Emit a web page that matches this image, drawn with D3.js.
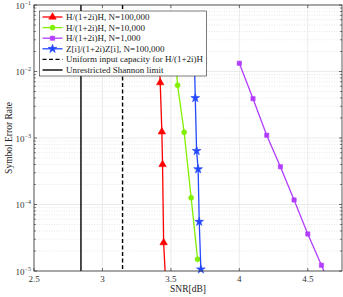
<!DOCTYPE html>
<html>
<head>
<meta charset="utf-8">
<title>SER vs SNR</title>
<script src="https://cdn.jsdelivr.net/npm/d3@7"></script>
<style>
  body { margin: 0; background: #fff; }
  svg { display: block; font-family: "Liberation Serif", "DejaVu Serif", serif; }
  .grid-major { stroke: #e2e2e2; stroke-width: 0.7; }
  .grid-minor { stroke: #dadada; stroke-width: 0.6; stroke-dasharray: 1,1.5; }
</style>
</head>
<body>
<div id="chart"></div>
<script>
// series values
var red_snr   = [3.415, 3.422, 3.434, 3.439, 3.447, 3.46];
var red_ser   = [1.6e-2, 6.8e-3, 1.24e-3, 4.0e-4, 2.67e-5, 8e-6];
var green_snr = [3.535, 3.549, 3.597, 3.648, 3.695];
var green_ser = [1.5e-2, 6.2e-3, 1.22e-3, 1.26e-4, 1.5e-5];
var purple_snr = [4.0, 4.1, 4.2, 4.3, 4.4, 4.5, 4.6, 4.7];
var purple_ser = [1.33e-2, 3.9e-3, 1.1e-3, 3.7e-4, 1.17e-4, 3.6e-5, 1.22e-5, 4e-6];
var blue_snr  = [3.672, 3.678, 3.688, 3.699, 3.707, 3.719];
var blue_ser  = [1.5e-2, 4.0e-3, 6.4e-4, 3.4e-4, 5.5e-5, 1.06e-5];
var uniform_limit = 3.147;
var shannon_limit = 2.843;

var legend_labels = [
  "H/(1+2i)H, N=100,000",
  "H/(1+2i)H, N=10,000",
  "H/(1+2i)H, N=1,000",
  "Z[i]/(1+2i)Z[i], N=100,000",
  "Uniform input capacity for H/(1+2i)H",
  "Unrestricted Shannon limit"
];
var x_ticks = [2.5, 3, 3.5, 4, 4.5];
var x_tick_labels = ["2.5", "3", "3.5", "4", "4.5"];
var y_exps = [-1, -2, -3, -4, -5];

var W = 343, H = 297;
var m = {left: 34, right: 1, top: 5, bottom: 26};

var svg = d3.select("#chart").append("svg").attr("width", W).attr("height", H);

var x = d3.scaleLinear().domain([2.5, 4.75]).range([m.left, W - m.right]);
var y = d3.scaleLog().domain([1e-5, 1e-1]).range([H - m.bottom, m.top]);

// grid
var minorY = [];
y_exps.slice(1).forEach(function(e){
  for (var k = 2; k <= 9; k++) minorY.push(k * Math.pow(10, e));
});
svg.append("g").selectAll("line").data(minorY).enter().append("line")
  .attr("class", "grid-minor")
  .attr("x1", m.left).attr("x2", W - m.right)
  .attr("y1", function(d){ return y(d); }).attr("y2", function(d){ return y(d); });
svg.append("g").selectAll("line").data(y_exps).enter().append("line")
  .attr("class", "grid-major")
  .attr("x1", m.left).attr("x2", W - m.right)
  .attr("y1", function(d){ return y(Math.pow(10, d)); }).attr("y2", function(d){ return y(Math.pow(10, d)); });
svg.append("g").selectAll("line").data(x_ticks).enter().append("line")
  .attr("class", "grid-major")
  .attr("y1", m.top).attr("y2", H - m.bottom)
  .attr("x1", function(d){ return x(d); }).attr("x2", function(d){ return x(d); });

svg.append("clipPath").attr("id", "clip").append("rect")
  .attr("x", m.left).attr("y", m.top)
  .attr("width", W - m.left - m.right).attr("height", H - m.top - m.bottom);

// vertical limits
svg.append("line")
  .attr("x1", x(shannon_limit)).attr("x2", x(shannon_limit))
  .attr("y1", m.top).attr("y2", H - m.bottom)
  .attr("stroke", "#000").attr("stroke-width", 1.4);
svg.append("line")
  .attr("x1", x(uniform_limit)).attr("x2", x(uniform_limit))
  .attr("y1", m.top).attr("y2", H - m.bottom)
  .attr("stroke", "#000").attr("stroke-width", 1.4).attr("stroke-dasharray", "4,2.5");

var series = [
  {snr: red_snr, ser: red_ser, color: "#ff0000", sym: d3.symbolTriangle, size: 24},
  {snr: green_snr, ser: green_ser, color: "#80f000", sym: d3.symbolCircle, size: 20},
  {snr: purple_snr, ser: purple_ser, color: "#b23cff", sym: d3.symbolSquare, size: 18},
  {snr: blue_snr, ser: blue_ser, color: "#2448ff", sym: d3.symbolStar, size: 24}
];

var line = d3.line()
  .x(function(d){ return x(d[0]); })
  .y(function(d){ return y(d[1]); });

series.forEach(function(s){
  var pts = d3.zip(s.snr, s.ser);
  svg.append("path").datum(pts)
    .attr("clip-path", "url(#clip)")
    .attr("d", line)
    .attr("fill", "none").attr("stroke", s.color).attr("stroke-width", 1.3);
  svg.append("g").selectAll("path").data(pts.filter(function(p){ return p[1] >= 1e-5; }))
    .enter().append("path")
    .attr("d", d3.symbol().type(s.sym).size(s.size))
    .attr("transform", function(p){ return "translate(" + x(p[0]) + "," + y(p[1]) + ")"; })
    .attr("fill", s.color).attr("stroke", s.color).attr("stroke-width", 0.6);
});

// axes box and ticks
svg.append("rect")
  .attr("x", m.left).attr("y", m.top)
  .attr("width", W - m.left - m.right).attr("height", H - m.top - m.bottom)
  .attr("fill", "none").attr("stroke", "#333").attr("stroke-width", 0.8);

var tk = svg.append("g").attr("stroke", "#333").attr("stroke-width", 0.7);
x_ticks.forEach(function(t){
  tk.append("line").attr("x1", x(t)).attr("x2", x(t)).attr("y1", H - m.bottom).attr("y2", H - m.bottom - 3);
  tk.append("line").attr("x1", x(t)).attr("x2", x(t)).attr("y1", m.top).attr("y2", m.top + 3);
});
y_exps.forEach(function(e){
  var v = y(Math.pow(10, e));
  tk.append("line").attr("x1", m.left).attr("x2", m.left + 3).attr("y1", v).attr("y2", v);
  tk.append("line").attr("x1", W - m.right).attr("x2", W - m.right - 3).attr("y1", v).attr("y2", v);
});
minorY.forEach(function(d){
  var v = y(d);
  tk.append("line").attr("x1", m.left).attr("x2", m.left + 1.8).attr("y1", v).attr("y2", v);
  tk.append("line").attr("x1", W - m.right).attr("x2", W - m.right - 1.8).attr("y1", v).attr("y2", v);
});

// tick labels
svg.append("g").selectAll("text").data(x_ticks).enter().append("text")
  .attr("x", function(d){ return x(d); })
  .attr("y", H - m.bottom + 11)
  .attr("text-anchor", "middle")
  .attr("font-size", 9).attr("fill", "#333")
  .text(function(d, i){ return x_tick_labels[i]; });

var yl = svg.append("g").selectAll("text").data(y_exps).enter().append("text")
  .attr("x", m.left - 3)
  .attr("y", function(d){ return y(Math.pow(10, d)) + 3.5; })
  .attr("text-anchor", "end")
  .attr("font-size", 9).attr("fill", "#333");
yl.append("tspan").text("10");
yl.append("tspan").attr("dy", -4).attr("font-size", 6).text(function(d){ return "\u2212" + (-d); });

// axis titles
svg.append("text")
  .attr("x", (m.left + W - m.right) / 2)
  .attr("y", H - 5)
  .attr("text-anchor", "middle")
  .attr("font-size", 9.5).attr("fill", "#222")
  .text("SNR[dB]");
svg.append("text")
  .attr("transform", "translate(12," + ((m.top + H - m.bottom) / 2) + ") rotate(-90)")
  .attr("text-anchor", "middle")
  .attr("font-size", 9.5).attr("fill", "#222")
  .text("Symbol Error Rate");

// legend
var lg = svg.append("g");
lg.append("rect")
  .attr("x", 39.5).attr("y", 11)
  .attr("width", 167).attr("height", 65)
  .attr("fill", "#fff").attr("stroke", "#444").attr("stroke-width", 0.7);
var rowY = function(i){ return 17 + i * 10.6; };
legend_labels.forEach(function(lab, i){
  var yy = rowY(i);
  var s = series[i];
  var ln = lg.append("line")
    .attr("x1", 42.5).attr("x2", 62.5).attr("y1", yy).attr("y2", yy)
    .attr("stroke-width", 1.3);
  if (s) {
    ln.attr("stroke", s.color);
    lg.append("path")
      .attr("d", d3.symbol().type(s.sym).size(s.size))
      .attr("transform", "translate(52.5," + yy + ")")
      .attr("fill", s.color).attr("stroke", s.color).attr("stroke-width", 0.6);
  } else {
    ln.attr("stroke", "#000").attr("stroke-width", 1.4);
    if (i === 4) ln.attr("stroke-dasharray", "4,2.5");
  }
  lg.append("text")
    .attr("x", 66).attr("y", yy + 3)
    .attr("font-size", 9).attr("fill", "#222")
    .text(lab);
});
</script>
</body>
</html>
